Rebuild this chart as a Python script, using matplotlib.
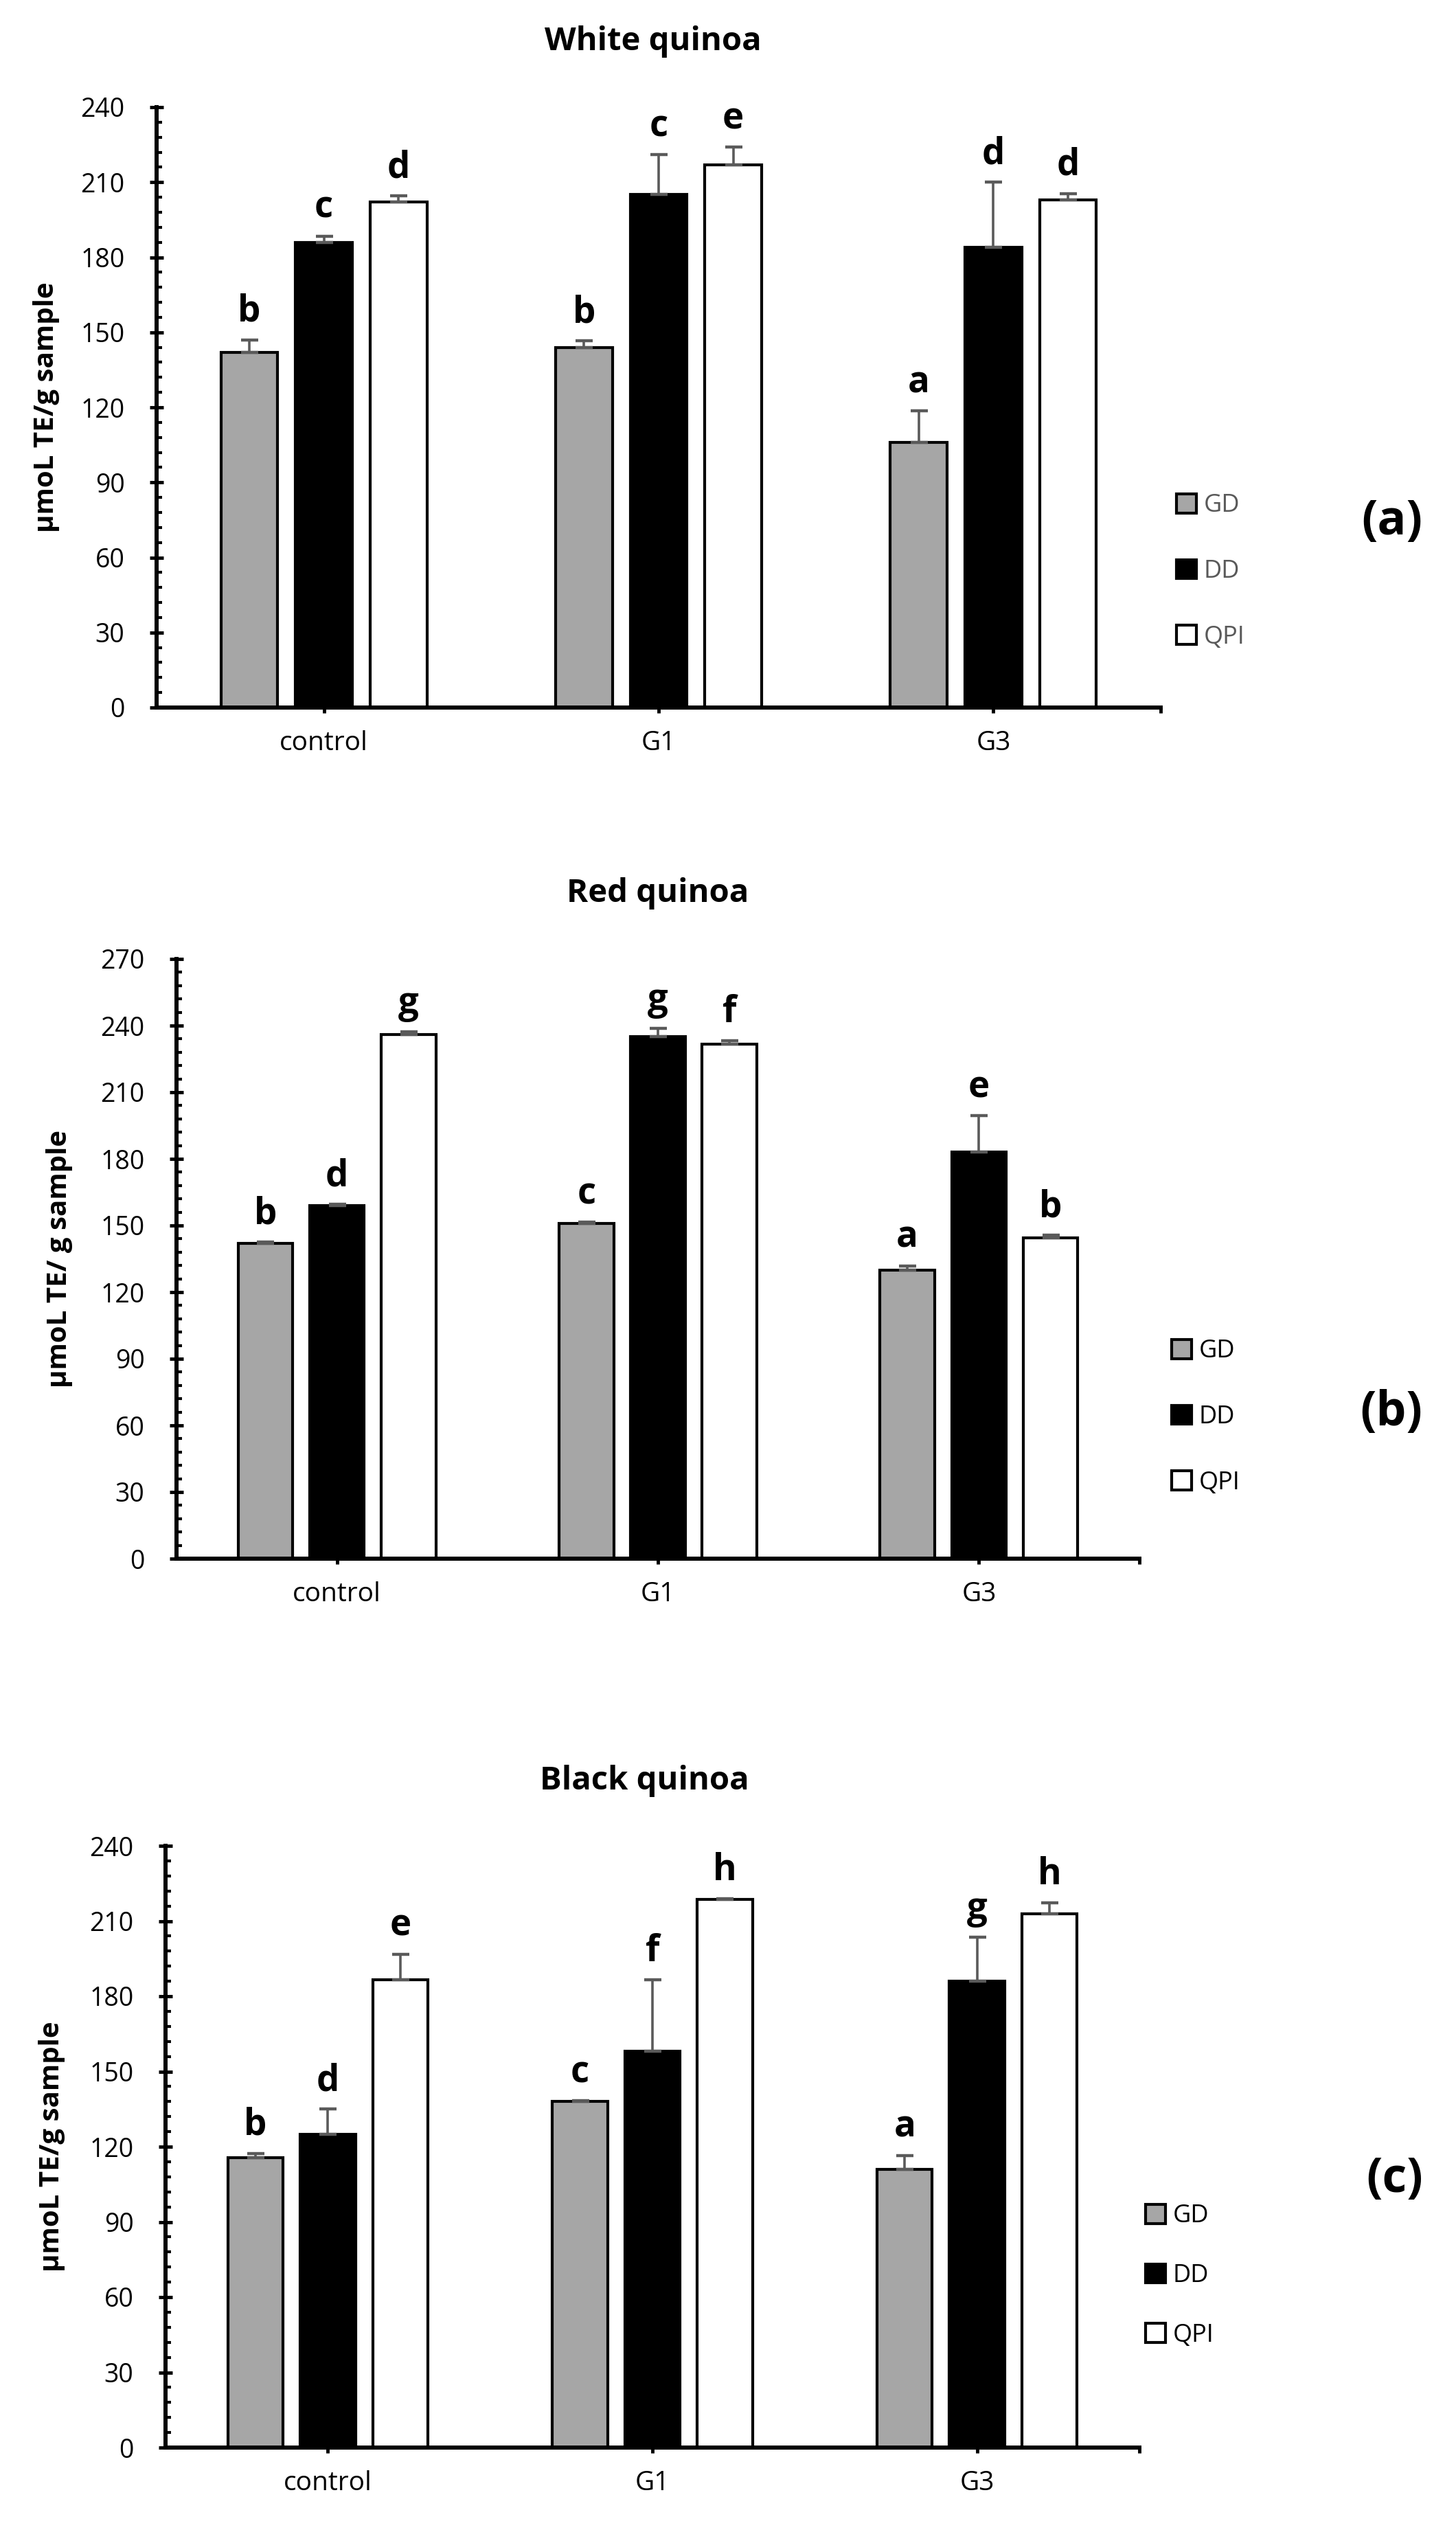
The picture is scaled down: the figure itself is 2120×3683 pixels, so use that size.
import numpy as np
import matplotlib
matplotlib.use("Agg")
import matplotlib.pyplot as plt
from matplotlib.ticker import MultipleLocator

plt.rcParams['font.family'] = ['Open Sans', 'DejaVu Sans']

# ---------------- data ----------------
groups = ['control', 'G1', 'G3']
series_names = ['GD', 'DD', 'QPI']

white_gd = [142, 144, 106]
white_gd_err = [5, 2.5, 12.5]
white_dd = [186, 205, 184]
white_dd_err = [2.5, 16, 26]
white_qpi = [202, 217, 203]
white_qpi_err = [2.5, 7, 2.5]
white_gd_letters = ['b', 'b', 'a']
white_dd_letters = ['c', 'c', 'd']
white_qpi_letters = ['d', 'e', 'd']

red_gd = [142, 151, 130]
red_gd_err = [0.5, 0.5, 1.8]
red_dd = [159, 235, 183]
red_dd_err = [0.5, 3.8, 16.5]
red_qpi = [236, 231.5, 144.5]
red_qpi_err = [1.2, 1.7, 1.2]
red_gd_letters = ['b', 'c', 'a']
red_dd_letters = ['d', 'g', 'e']
red_qpi_letters = ['g', 'f', 'b']

black_gd = [115.5, 138, 111]
black_gd_err = [1.8, 0.3, 5.5]
black_dd = [125, 158, 186]
black_dd_err = [10, 28.5, 17.5]
black_qpi = [186.5, 218.5, 213]
black_qpi_err = [10.3, 0.3, 4.2]
black_gd_letters = ['b', 'c', 'a']
black_dd_letters = ['d', 'f', 'g']
black_qpi_letters = ['e', 'h', 'h']

# ---------------- figure ----------------
W, H = 2120, 3683
fig = plt.figure(figsize=(W / 100, H / 100), dpi=100)


def fx(px):
    return px / W


def fy(py):
    return 1 - py / H


bar_colors = ['#a6a6a6', '#000000', '#ffffff']
offsets = [-0.223, 0.0, 0.223]


def panel(box, ymax, vals, errs, letters, title, title_xy, ylabel, ylabel_x,
          leg_xy, leg_color, leg_spacing, plabel, plabel_xy):
    left, right, top, bottom = box
    ax = fig.add_axes([fx(left), fy(bottom), (right - left) / W, (bottom - top) / H])
    x = np.arange(len(groups))
    handles = []
    for i in range(3):
        xs = x + offsets[i]
        b = ax.bar(xs, vals[i], width=0.17, color=bar_colors[i], edgecolor='black',
                   linewidth=3, zorder=2, label=series_names[i])
        handles.append(b)
        ax.errorbar(xs, vals[i], yerr=[np.zeros(len(xs)), errs[i]], fmt='none',
                    ecolor='#5a5a5a', elinewidth=2.6, capsize=9, capthick=3.2, zorder=3)
        for xi, vi, ei, li in zip(xs, vals[i], errs[i], letters[i]):
            ax.annotate(li, (xi, vi + ei), xytext=(0, 10), textcoords='offset points',
                        ha='center', va='bottom', fontsize=38, fontweight='bold')
    ax.set_xlim(-0.5, 2.5)
    ax.set_ylim(0, ymax)
    for s in ['top', 'right']:
        ax.spines[s].set_visible(False)
    for s in ['left', 'bottom']:
        ax.spines[s].set_linewidth(4.3)
    ax.yaxis.set_major_locator(MultipleLocator(30))
    ax.yaxis.set_minor_locator(MultipleLocator(6))
    ax.tick_params(axis='y', which='major', direction='inout', length=15, width=3.5,
                   labelsize=27, pad=26)
    ax.tick_params(axis='y', which='minor', direction='in', length=6, width=3)
    ax.set_xticks([0, 1, 2, 2.5])
    ax.set_xticklabels(groups + [''])
    ax.tick_params(axis='x', which='major', direction='out', length=6, width=3.5,
                   labelsize=28, pad=18)
    ax.tick_params(axis='x', which='minor', bottom=False)

    fig.text(fx(title_xy[0]), fy(title_xy[1]), title, ha='center', va='baseline',
             fontsize=34, fontweight='bold')
    fig.text(fx(ylabel_x), fy((top + bottom) / 2), ylabel, rotation=90, ha='center',
             va='center', fontsize=29, fontweight='bold')
    leg = ax.legend(handles, series_names, loc='center left',
                    bbox_to_anchor=(fx(leg_xy[0]), fy(leg_xy[1])),
                    bbox_transform=fig.transFigure, frameon=False, fontsize=26,
                    handlelength=0.8, handleheight=0.8, handletextpad=0.3,
                    labelspacing=leg_spacing, borderpad=0, borderaxespad=0)
    for t in leg.get_texts():
        t.set_color(leg_color)
    fig.text(fx(plabel_xy[0]), fy(plabel_xy[1]), plabel, ha='center', va='center',
             fontsize=50, fontweight='bold')
    return ax


panel((228, 1690, 156, 1030), 240,
      [white_gd, white_dd, white_qpi],
      [white_gd_err, white_dd_err, white_qpi_err],
      [white_gd_letters, white_dd_letters, white_qpi_letters],
      'White quinoa', (951, 73), 'μmoL TE/g sample', 68,
      (1713, 832), '#595959', 1.65, '(a)', (2027, 760))

panel((257, 1659, 1396, 2269), 270,
      [red_gd, red_dd, red_qpi],
      [red_gd_err, red_dd_err, red_qpi_err],
      [red_gd_letters, red_dd_letters, red_qpi_letters],
      'Red quinoa', (958, 1313), 'μmoL TE/ g sample', 87,
      (1706, 2063), 'black', 1.65, '(b)', (2026, 2057))

panel((241, 1659, 2687, 3563), 240,
      [black_gd, black_dd, black_qpi],
      [black_gd_err, black_dd_err, black_qpi_err],
      [black_gd_letters, black_dd_letters, black_qpi_letters],
      'Black quinoa', (938, 2605), 'μmoL TE/g sample', 76,
      (1668, 3313), 'black', 1.4, '(c)', (2031, 3173))

fig.savefig('out.png', dpi=100, facecolor='white')
